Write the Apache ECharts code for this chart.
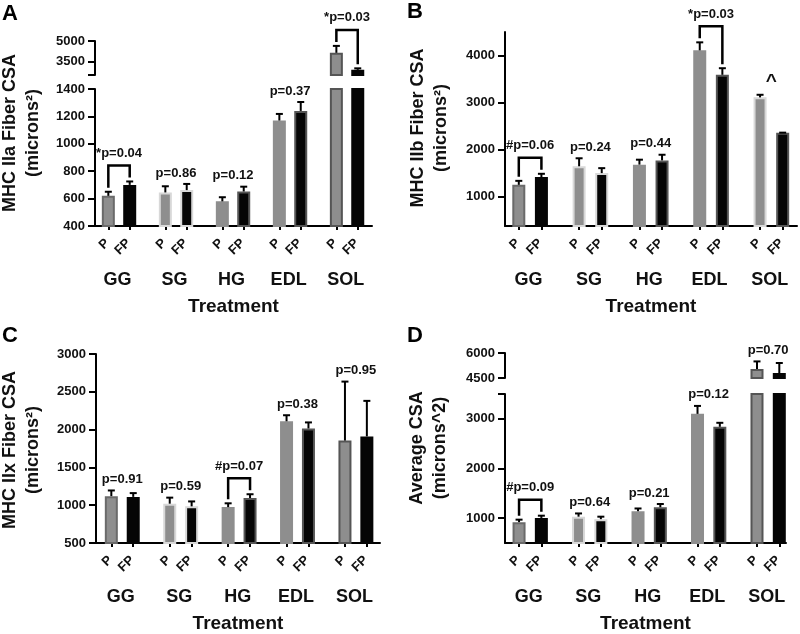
<!DOCTYPE html>
<html><head><meta charset="utf-8">
<script src="https://cdn.jsdelivr.net/npm/echarts@6/dist/echarts.min.js"></script>
<style>html,body{margin:0;padding:0;background:#fff}#c{width:800px;height:634px}</style>
</head><body><div id="c"></div>
<script>
const groups = ['GG', 'SG', 'HG', 'EDL', 'SOL'];
const barNames = ['P', 'FP'];

const iiaP = [620, 645, 580, 1170, 4130];
const iiaPErr = [30, 45, 30, 48, 510];
const iiaFP = [700, 662, 652, 1240, 2880];
const iiaFPErr = [25, 45, 35, 65, 110];
const iiaStats = ['*p=0.04', 'p=0.86', 'p=0.12', 'p=0.37', '*p=0.03'];
const iiaBracket = [1, 0, 0, 0, 1];
const iiaTicksLower = [400, 600, 800, 1000, 1200, 1400];
const iiaTicksUpper = [3500, 5000];

const iibP = [1250, 1645, 1680, 4110, 3110];
const iibPErr = [85, 170, 105, 170, 55];
const iibFP = [1415, 1500, 1770, 3590, 2360];
const iibFPErr = [70, 105, 120, 140, 0];
const iibStats = ['#p=0.06', 'p=0.24', 'p=0.44', '*p=0.03', '^'];
const iibBracket = [1, 0, 0, 1, 0];
const iibTicks = [1000, 2000, 3000, 4000];

const iixP = [1120, 1020, 975, 2110, 1855];
const iixPErr = [75, 80, 50, 80, 780];
const iixFP = [1110, 985, 1095, 2015, 1910];
const iixFPErr = [50, 65, 50, 80, 470];
const iixStats = ['p=0.91', 'p=0.59', '#p=0.07', 'p=0.38', 'p=0.95'];
const iixBracket = [0, 0, 1, 0, 0];
const iixTicks = [500, 1000, 1500, 2000, 2500, 3000];

const avgP = [920, 1030, 1140, 3100, 5040];
const avgPErr = [50, 65, 55, 160, 455];
const avgFP = [1005, 980, 1220, 2840, 4800];
const avgFPErr = [45, 50, 65, 80, 600];
const avgStats = ['#p=0.09', 'p=0.64', 'p=0.21', 'p=0.12', 'p=0.70'];
const avgBracket = [1, 0, 0, 0, 0];
const avgTicksLower = [1000, 2000, 3000];
const avgTicksUpper = [4500, 6000];

// ---------- styling / layout ----------
const FONT = '"Liberation Sans", Arial, Helvetica, sans-serif';
const TXT = '#111';
const P_FILL = '#8e8e8e', FP_FILL = '#050505';
const LIGHT = '#d8d8d8', DARK = '#555555', DARKP = '#6a6a6a';
const stdPBorder = [DARKP, LIGHT, P_FILL, P_FILL, DARK];
const stdFPBorder = [FP_FILL, LIGHT, DARK, DARK, FP_FILL];

const panels = [
  { letter: 'A', lx: 10, ly: 14, title: 'MHC IIa Fiber CSA\n(microns²)', tx: 22, ty: 133,
    P: iiaP, PE: iiaPErr, F: iiaFP, FE: iiaFPErr, stats: iiaStats, br: iiaBracket,
    left: 95, right: 372, xMin: -1.87, xMax: 37,
    segs: [{ top: 89, bottom: 226, min: 400, max: 1400, labels: iiaTicksLower, extra: [] },
           { top: 41, bottom: 75, min: 2500, max: 5000, labels: iiaTicksUpper, extra: [2500] }],
    pB: stdPBorder, fB: stdFPBorder },
  { letter: 'B', lx: 415, ly: 12, title: 'MHC IIb Fiber CSA\n(microns²)', tx: 430, ty: 128,
    P: iibP, PE: iibPErr, F: iibFP, FE: iibFPErr, stats: iibStats, br: iibBracket,
    left: 505, right: 797, xMin: -1.83, xMax: 36.9,
    segs: [{ top: 32, bottom: 226, min: 375, max: 4500, labels: iibTicks, extra: [] }],
    pB: [DARKP, LIGHT, P_FILL, P_FILL, LIGHT], fB: [FP_FILL, LIGHT, DARK, DARK, DARK] },
  { letter: 'C', lx: 10, ly: 336, title: 'MHC IIx Fiber CSA\n(microns²)', tx: 22, ty: 450,
    P: iixP, PE: iixPErr, F: iixFP, FE: iixFPErr, stats: iixStats, br: iixBracket,
    left: 96, right: 380, xMin: -2.1, xMax: 36.8,
    segs: [{ top: 354, bottom: 546, min: 500, max: 3000, labels: iixTicks, extra: [] }],
    pB: stdPBorder, fB: stdFPBorder },
  { letter: 'D', lx: 415, ly: 336, title: 'Average CSA\n(microns^2)', tx: 429, ty: 448,
    P: avgP, PE: avgPErr, F: avgFP, FE: avgFPErr, stats: avgStats, br: avgBracket,
    left: 505, right: 786, xMin: -1.89, xMax: 35.9,
    segs: [{ top: 394, bottom: 546, min: 500, max: 3500, labels: avgTicksLower, extra: [3500] },
           { top: 353, bottom: 378, min: 4500, max: 6000, labels: avgTicksUpper, extra: [] }],
    pB: stdPBorder, fB: stdFPBorder }
];

const grid = [], xAxis = [], yAxis = [], series = [], graphic = [];

panels.forEach(pn => {
  const items = [];
  groups.forEach((gname, g) => {
    [0, 1].forEach(k => {
      items.push({
        x: g * 8 + k * 3, g, k,
        v: k ? pn.F[g] : pn.P[g],
        e: k ? pn.FE[g] : pn.PE[g]
      });
    });
  });
  const barX = items.map(it => it.x);
  const groupX = groups.map((_, g) => g * 8 + 1.3);
  const lowMax = pn.segs[0].max;
  const upperSeg = pn.segs.length > 1;

  pn.segs.forEach((s, si) => {
    const gi = grid.length;
    grid.push({ left: pn.left, top: s.top, width: pn.right - pn.left, height: s.bottom - s.top });
    const xi = xAxis.length;
    if (si === 0) {
      xAxis.push({
        type: 'value', gridIndex: gi, min: pn.xMin, max: pn.xMax, position: 'bottom',
        axisLine: { show: true, onZero: false, lineStyle: { color: '#000', width: 2 } },
        axisTick: { show: true, customValues: barX, length: 4, lineStyle: { color: '#000', width: 2 } },
        axisLabel: { show: false },
        splitLine: { show: false },
        name: 'Treatment', nameLocation: 'middle', nameGap: 71,
        nameTextStyle: { fontSize: 19, fontWeight: 'bold', fontFamily: FONT, color: TXT }
      });
      xAxis.push({
        type: 'value', gridIndex: gi, min: pn.xMin, max: pn.xMax, position: 'bottom',
        axisLine: { show: false }, axisTick: { show: false }, splitLine: { show: false },
        axisLabel: { customValues: groupX, margin: 45, fontSize: 18, fontWeight: 'bold',
          fontFamily: FONT, color: TXT,
          formatter: v => groups[Math.round((v - 1.3) / 8)] }
      });
    } else {
      xAxis.push({ type: 'value', gridIndex: gi, min: pn.xMin, max: pn.xMax, show: false });
    }
    const yi = yAxis.length;
    yAxis.push({
      type: 'value', gridIndex: gi, min: s.min, max: s.max,
      axisLine: { show: true, onZero: false, lineStyle: { color: '#000', width: 2 } },
      axisTick: { show: true, customValues: s.labels.concat(s.extra), length: 7,
        lineStyle: { color: '#000', width: 2 } },
      axisLabel: { customValues: s.labels, margin: 10, fontSize: 13, fontWeight: 'bold',
        fontFamily: FONT, color: TXT, formatter: v => String(v) },
      splitLine: { show: false }
    });

    const barData = items
      .filter(it => si === 0 || it.v > lowMax)
      .map(it => ({
        value: [it.x, it.v],
        itemStyle: {
          color: it.k ? FP_FILL : P_FILL,
          borderColor: it.k ? pn.fB[it.g] : pn.pB[it.g],
          borderWidth: 2
        }
      }));
    series.push({
      type: 'bar', xAxisIndex: xi, yAxisIndex: yi, barWidth: 13, clip: true,
      silent: true, data: barData, z: 2
    });

    const errData = items
      .filter(it => si === 0 ? it.v <= lowMax : it.v > lowMax)
      .map(it => [it.x, it.v, it.e]);
    series.push({
      type: 'custom', xAxisIndex: xi, yAxisIndex: yi, clip: false, silent: true, z: 4,
      data: errData,
      renderItem: (params, api) => {
        const x = api.value(0), v = api.value(1), e = api.value(2);
        const b = api.coord([x, v]), t = api.coord([x, v + e]);
        return { type: 'group', children: [
          { type: 'line', shape: { x1: b[0], y1: b[1], x2: t[0], y2: t[1] }, style: { stroke: '#000', lineWidth: 2 } },
          { type: 'line', shape: { x1: t[0] - 3.5, y1: t[1], x2: t[0] + 3.5, y2: t[1] }, style: { stroke: '#000', lineWidth: 2 } }
        ] };
      }
    });

    if (si === 0) {
      // rotated P / FP bar labels under the axis
      series.push({
        type: 'custom', xAxisIndex: xi, yAxisIndex: yi, clip: false, silent: true, z: 5,
        data: items.map(it => [it.x, s.min, it.k]),
        renderItem: (params, api) => {
          const c = api.coord([api.value(0), api.value(1)]);
          return { type: 'text', x: c[0] - 1, y: c[1] + 15, rotation: Math.PI / 4,
            style: { text: barNames[api.value(2)], fill: TXT, align: 'right', verticalAlign: 'middle',
              font: 'bold 13px ' + FONT } };
        }
      });
    }

    const annData = [];
    groups.forEach((_, g) => {
      const hi = Math.max(pn.P[g], pn.F[g]) > lowMax && upperSeg;
      if ((si === 1) === hi) {
        annData.push([g * 8, pn.P[g] + pn.PE[g], g, g * 8 + 3, pn.F[g] + pn.FE[g]]);
      }
    });
    series.push({
      type: 'custom', xAxisIndex: xi, yAxisIndex: yi, clip: false, silent: true, z: 5,
      data: annData,
      renderItem: (params, api) => {
        const g = api.value(2);
        const pc = api.coord([api.value(0), api.value(1)]);
        const fc = api.coord([api.value(3), api.value(4)]);
        const minY = Math.min(pc[1], fc[1]);
        const cx = (pc[0] + fc[0]) / 2;
        const children = [];
        let ty;
        if (pn.br[g]) {
          const yb = minY - 16;
          children.push({ type: 'polyline',
            shape: { points: [[pc[0], pc[1] - 4], [pc[0], yb], [fc[0], yb], [fc[0], fc[1] - 4]] },
            style: { stroke: '#000', lineWidth: 2.5, fill: null } });
          ty = yb - 12;
        } else {
          ty = minY - 11;
        }
        const big = pn.stats[g] === '^';
        children.push({ type: 'text', x: cx, y: ty - (big ? 2 : 0),
          style: { text: pn.stats[g], fill: TXT, align: 'center', verticalAlign: 'middle',
            font: 'bold ' + (big ? 19 : 13) + 'px ' + FONT } });
        return { type: 'group', children };
      }
    });
  });

  graphic.push({ type: 'text', x: pn.lx, y: pn.ly,
    style: { text: pn.letter, fill: '#000', font: 'bold 22px ' + FONT, align: 'center', verticalAlign: 'middle' } });
  graphic.push({ type: 'text', x: pn.tx, y: pn.ty, rotation: Math.PI / 2,
    style: { text: pn.title, fill: TXT, font: 'bold 18px ' + FONT, align: 'center',
      verticalAlign: 'middle', lineHeight: 23 } });
});

const chart = echarts.init(document.getElementById('c'), null, { renderer: 'canvas' });
chart.setOption({
  backgroundColor: '#fff',
  animation: false,
  grid, xAxis, yAxis, series, graphic
});
</script>
</body></html>
